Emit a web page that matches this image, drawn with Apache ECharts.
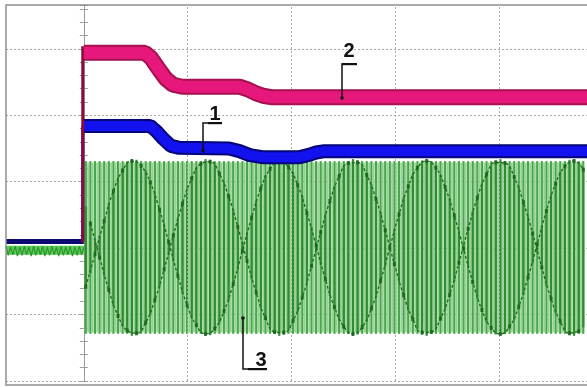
<!DOCTYPE html>
<html><head><meta charset="utf-8">
<script src="https://cdn.jsdelivr.net/npm/echarts@6/dist/echarts.min.js"></script>
<style>html,body{margin:0;padding:0;background:#fff}#c{width:587px;height:387px}</style>
</head><body><div id="c"></div>
<script>
// ---- data (screen divisions) ----
const triggerTime = -0.01;
const preLevelBlue = 2.10;
const preLevelMagenta = 2.09;

const magentaTime  = [0, 0.59, 0.65, 0.72, 0.79, 0.86, 0.95, 1.50, 1.58, 1.66, 1.74, 1.82, 2.50, 4.85];
const magentaLevel = [4.94, 4.94, 4.86, 4.70, 4.55, 4.46, 4.43, 4.43, 4.39, 4.33, 4.29, 4.27, 4.27, 4.27];

const blueTime  = [0, 0.64, 0.70, 0.77, 0.84, 0.92, 1.40, 1.50, 1.60, 1.72, 2.08, 2.16, 2.24, 2.32, 4.85];
const blueLevel = [3.84, 3.84, 3.76, 3.64, 3.54, 3.51, 3.50, 3.46, 3.40, 3.37, 3.37, 3.40, 3.44, 3.46, 3.46];

const greenPreStart = -0.75, greenPreStep = 0.0221;
const greenPreLevel = 1.97;
const greenPre = [2.03,1.89,2.02,1.90,2.03,1.88,2.02,1.89,2.03,1.90,2.02,1.88,2.03,1.89,2.02,1.90,2.03,1.88,
                  2.02,1.89,2.03,1.90,2.02,1.88,2.03,1.89,2.02,1.90,2.03,1.88,2.02,1.89,2.03,1.90,2.02];

const greenStart = 0.019, greenStep = 0.0444;
const greenCenter = 2.01, greenHigh = 3.31, greenLow = 0.71;
const greenSample = [
 -0.59, 0.36,-0.10,-0.15, 0.40,-0.64, 0.85,-1.03, 1.16,-1.25, 1.30,-1.29, 1.23,-1.13, 0.98,-0.79, 0.57,-0.33, 0.08,
  0.18,-0.43, 0.66,-0.87, 1.04,-1.17, 1.26,-1.30, 1.29,-1.22, 1.11,-0.96, 0.77,-0.55, 0.31,-0.05,
 -0.20, 0.45,-0.68, 0.89,-1.06, 1.18,-1.27, 1.30,-1.28, 1.21,-1.10, 0.94,-0.75, 0.52,-0.28, 0.03,
  0.23,-0.48, 0.70,-0.90, 1.07,-1.19, 1.27,-1.30, 1.28,-1.20, 1.09,-0.92, 0.73,-0.50, 0.26, 0.00,
 -0.25, 0.50,-0.72, 0.92,-1.08, 1.20,-1.28, 1.30,-1.27, 1.20,-1.07, 0.91,-0.71, 0.48,-0.23,
 -0.02, 0.28,-0.52, 0.75,-0.94, 1.10,-1.21, 1.28,-1.30, 1.27,-1.19, 1.06,-0.89, 0.68,-0.45, 0.21,
  0.05,-0.30, 0.55,-0.77, 0.96,-1.11, 1.22,-1.29, 1.30,-1.26, 1.17
];

const gridX = [1, 2, 3, 4];
const labelTexts = ['1', '2', '3'];

// ---- build ----
const xMin = -0.75, xMax = 4.85, yMin = 0, yMax = 5.66;

const magentaData = magentaTime.map((t, i) => [t, magentaLevel[i]]);
const blueData = blueTime.map((t, i) => [t, blueLevel[i]]);
const greenPreData = greenPre.map((v, i) => [greenPreStart + i * greenPreStep, v]);
const sampleTime = greenSample.map((s, i) => greenStart + i * greenStep);
const fullStripes = sampleTime.map(t => [t, greenLow, greenHigh]);
const innerStripes = greenSample.map((s, i) => [sampleTime[i], greenCenter - Math.abs(s) - 0.03, greenCenter + Math.abs(s) + 0.03]);
const lightStripes = sampleTime.slice(0, -1).map((t, i) => [(t + sampleTime[i + 1]) / 2, greenLow + 0.02, greenHigh - 0.02]);
const dots = greenSample.map((s, i) => [sampleTime[i], greenCenter + s]);
const evenCurve = dots.filter((d, i) => i % 2 === 0);
const oddCurve = dots.filter((d, i) => i % 2 === 1);

function stripe(color, width) {
  return function (params, api) {
    const a = api.coord([api.value(0), api.value(1)]);
    const b = api.coord([api.value(0), api.value(2)]);
    return { type: 'line', shape: { x1: a[0], y1: a[1], x2: b[0], y2: b[1] },
             style: { stroke: color, lineWidth: width } };
  };
}

const tickAxis = (pos) => ({
  type: 'value', min: yMin, max: yMax, interval: 0.2, position: pos,
  axisLine: { show: true, onZero: true, onZeroAxisIndex: 0, lineStyle: { color: '#9b9b9b', width: 1 } },
  axisTick: { show: true, length: 4, lineStyle: { color: '#9b9b9b', width: 1 } },
  axisLabel: { show: false }, splitLine: { show: false }
});

const curveStyle = { color: '#236c23', width: 1.4, type: [3, 2] };

const chart = echarts.init(document.getElementById('c'), null, { renderer: 'canvas' });
chart.setOption({
  animation: false,
  backgroundColor: '#ffffff',
  grid: { left: 6, right: 0, top: 5, bottom: 6, containLabel: false },
  xAxis: { type: 'value', min: xMin, max: xMax, axisLine: { show: false }, axisTick: { show: false },
           axisLabel: { show: false }, splitLine: { show: false } },
  yAxis: [
    { type: 'value', min: yMin, max: yMax, interval: 1,
      axisLine: { show: false, onZero: false }, axisTick: { show: false }, axisLabel: { show: false },
      splitLine: { show: true, showMaxLine: false, lineStyle: { color: '#a9a9a9', width: 1, type: [2, 2] } } },
    tickAxis('left'),
    tickAxis('right')
  ],
  series: [
    { type: 'line', data: [], silent: true,
      markLine: { symbol: 'none', silent: true, label: { show: false },
        lineStyle: { color: '#a9a9a9', width: 1, type: [2, 2] },
        data: gridX.map(x => ({ xAxis: x })) } },
    { type: 'custom', renderItem: stripe('#94d494', 1.8), data: lightStripes, encode: { x: 0, y: [1, 2] }, z: 3, silent: true },
    { type: 'custom', renderItem: stripe('#4aa64a', 2.2), data: fullStripes, encode: { x: 0, y: [1, 2] }, z: 4, silent: true },
    { type: 'custom', renderItem: stripe('#2f8c2f', 2.2), data: innerStripes, encode: { x: 0, y: [1, 2] }, z: 4, silent: true },
    { type: 'line', data: evenCurve, smooth: true, showSymbol: false, lineStyle: curveStyle, z: 5, silent: true },
    { type: 'line', data: oddCurve, smooth: true, showSymbol: false, lineStyle: curveStyle, z: 5, silent: true },
    { type: 'scatter', data: dots, symbol: 'rect', symbolSize: [3, 4], itemStyle: { color: '#1c621c' }, z: 5, silent: true },
    { type: 'line', data: [[xMin, greenPreLevel], [0, greenPreLevel]], showSymbol: false,
      lineStyle: { color: '#5acb5a', width: 9 }, z: 5, silent: true },
    { type: 'line', data: greenPreData, showSymbol: false, lineStyle: { color: '#2f962f', width: 1.2 }, z: 6, silent: true },
    { type: 'line', data: [[xMin, preLevelBlue], [0, preLevelBlue]], showSymbol: false,
      lineStyle: { color: '#0a0a70', width: 5 }, z: 7, silent: true },
    { type: 'line', data: [[triggerTime, preLevelBlue], [triggerTime, blueLevel[0]]], showSymbol: false,
      lineStyle: { color: '#1010a0', width: 3 }, z: 7, silent: true },
    { type: 'line', data: blueData, showSymbol: false, lineStyle: { color: '#05057a', width: 14, cap: 'butt' }, z: 8, silent: true },
    { type: 'line', data: blueData, showSymbol: false, lineStyle: { color: '#1212ee', width: 10, cap: 'butt' }, z: 9, silent: true },
    { type: 'line', data: [[triggerTime, preLevelMagenta], [triggerTime, magentaLevel[0] + 0.1]], showSymbol: false,
      lineStyle: { color: '#8a0c3e', width: 3 }, z: 10, silent: true },
    { type: 'line', data: magentaData, showSymbol: false, lineStyle: { color: '#a5104f', width: 16, cap: 'butt' }, z: 11, silent: true },
    { type: 'line', data: magentaData, showSymbol: false, lineStyle: { color: '#e6187b', width: 12, cap: 'butt' }, z: 12, silent: true }
  ],
  graphic: [
    { type: 'rect', shape: { x: 6, y: 5, width: 582, height: 380 }, style: { fill: 'none', stroke: '#8f8f8f', lineWidth: 1.5 }, silent: true, z: 100 },
    { type: 'polyline', shape: { points: [[222, 123], [203, 123], [203, 151]] }, style: { stroke: '#111', lineWidth: 1.5, fill: 'none' }, z: 101 },
    { type: 'rect', shape: { x: 208, y: 122, width: 14, height: 2.2 }, style: { fill: '#111' }, z: 101 },
    { type: 'circle', shape: { cx: 203, cy: 151, r: 1.8 }, style: { fill: '#111' }, z: 101 },
    { type: 'text', x: 215, y: 114, style: { text: labelTexts[0], font: 'bold 20px "Liberation Sans", Arial, sans-serif', fill: '#111', align: 'center', verticalAlign: 'middle' }, z: 101 },
    { type: 'polyline', shape: { points: [[357, 64], [342, 64], [342, 98]] }, style: { stroke: '#111', lineWidth: 1.5, fill: 'none' }, z: 101 },
    { type: 'rect', shape: { x: 342, y: 63, width: 15, height: 2.2 }, style: { fill: '#111' }, z: 101 },
    { type: 'circle', shape: { cx: 342, cy: 98, r: 1.8 }, style: { fill: '#111' }, z: 101 },
    { type: 'text', x: 349, y: 51, style: { text: labelTexts[1], font: 'bold 20px "Liberation Sans", Arial, sans-serif', fill: '#111', align: 'center', verticalAlign: 'middle' }, z: 101 },
    { type: 'polyline', shape: { points: [[267, 369], [243, 369], [243, 318]] }, style: { stroke: '#111', lineWidth: 1.5, fill: 'none' }, z: 101 },
    { type: 'rect', shape: { x: 248, y: 368, width: 19, height: 2.2 }, style: { fill: '#111' }, z: 101 },
    { type: 'circle', shape: { cx: 243, cy: 318, r: 1.8 }, style: { fill: '#111' }, z: 101 },
    { type: 'text', x: 261, y: 360, style: { text: labelTexts[2], font: 'bold 20px "Liberation Sans", Arial, sans-serif', fill: '#111', align: 'center', verticalAlign: 'middle' }, z: 101 }
  ]
});
</script></body></html>
